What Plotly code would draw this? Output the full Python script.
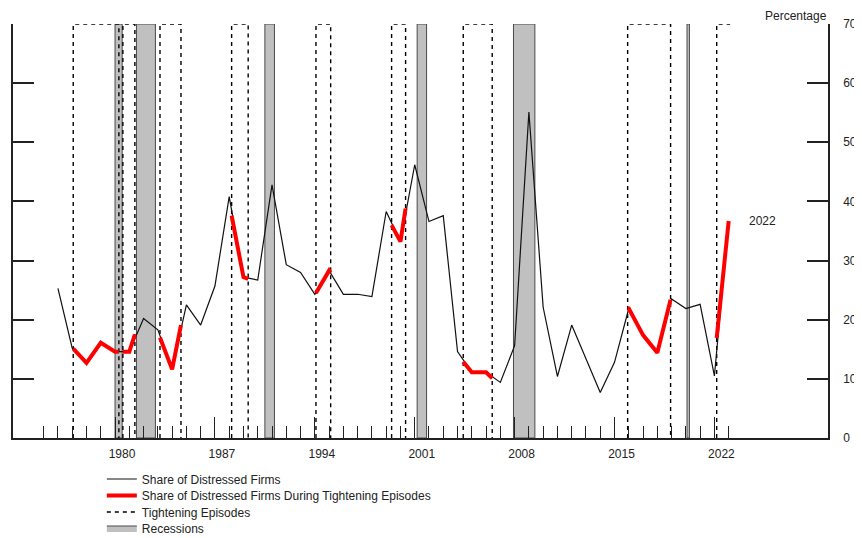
import plotly.graph_objects as go

# ---------------- data ----------------
years = list(range(1975, 2023))
share_distressed = [25.3, 15.2, 12.7, 16.1, 14.6, 14.6, 20.2, 18.3, 11.6, 22.5,
                    19.1, 25.7, 40.8, 27.2, 26.7, 42.8, 29.3, 28.0, 24.3, 28.3,
                    24.3, 24.3, 23.9, 38.3, 33.2, 46.2, 36.6, 37.6, 14.6, 11.1,
                    11.1, 9.4, 15.6, 55.1, 22.1, 10.4, 19.1, 13.4, 7.7, 12.8,
                    21.9, 17.4, 14.4, 23.5, 21.9, 22.6, 10.5, 36.7]

# tightening episodes (decimal years); last one still open
tight_start = [1977.07, 1980.55, 1983.15, 1988.17, 1994.08, 1999.38, 2004.40, 2015.92, 2022.16]
tight_end = [1980.27, 1981.39, 1984.62, 1989.33, 1995.11, 2000.36, 2006.43, 2018.93, 2023.10]
tight_open = [False, False, False, False, False, False, False, False, True]

# share of distressed firms during tightening episodes (x in decimal years, values read)
red_segments_x = [[1977.07, 1978, 1979, 1980, 1980.27],
                  [1980.55, 1981, 1981.39],
                  [1983.15, 1984, 1984.62],
                  [1988.17, 1989, 1989.33],
                  [1994.08, 1995, 1995.11],
                  [1999.38, 2000, 2000.36],
                  [2004.40, 2005, 2006, 2006.43],
                  [2015.92, 2016, 2017, 2018, 2018.93],
                  [2022.16, 2023]]
red_segments_y = [[15.1, 12.7, 16.1, 14.6, 14.6],
                  [14.6, 14.6, 17.5],
                  [17.0, 11.6, 19.1],
                  [37.6, 27.2, 26.9],
                  [24.5, 28.3, 27.9],
                  [36.0, 33.2, 38.8],
                  [12.9, 11.1, 11.1, 10.1],
                  [21.9, 21.9, 17.4, 14.4, 23.4],
                  [16.9, 36.7]]

# NBER recessions (decimal years)
rec_start = [1980.00, 1981.50, 1990.50, 2001.17, 2007.92, 2020.08]
rec_end = [1980.50, 1982.83, 1991.17, 2001.83, 2009.42, 2020.25]

label_years = [1980, 1987, 1994, 2001, 2008, 2015, 2022]
minor_years = list(range(1975, 2024))
y_ticks = [0, 10, 20, 30, 40, 50, 60, 70]

# observations are plotted at year end
x_pos = [y + 1 for y in years]

FONT = "Arial, Liberation Sans, sans-serif"
Y_MAX = 70
INK = "#222222"

fig = go.Figure()

# recessions
rx, ry = [], []
for s, e in zip(rec_start, rec_end):
    rx += [s, s, e, e, s, None]
    ry += [0, Y_MAX, Y_MAX, 0, 0, None]
fig.add_trace(go.Scatter(x=rx, y=ry, mode="lines", fill="toself",
                         fillcolor="#c0c0c0", line=dict(color="#4a4a4a", width=1),
                         name="Recessions", legend="legend4", hoverinfo="skip"))

# tightening episodes
tx, ty = [], []
for s, e, op in zip(tight_start, tight_end, tight_open):
    if op:
        tx += [s, s, e, None]
        ty += [0, Y_MAX, Y_MAX, None]
    else:
        tx += [s, s, e, e, None]
        ty += [0, Y_MAX, Y_MAX, 0, None]
fig.add_trace(go.Scatter(x=tx, y=ty, mode="lines",
                         line=dict(color="black", width=1.4, dash="4px,4px"),
                         name="Tightening Episodes", legend="legend3", hoverinfo="skip"))

# main series
fig.add_trace(go.Scatter(x=x_pos, y=share_distressed, mode="lines",
                         line=dict(color="#111111", width=1.2),
                         name="Share of Distressed Firms", legend="legend"))

# red segments
redx, redy = [], []
for sx, sy in zip(red_segments_x, red_segments_y):
    redx += sx + [None]
    redy += sy + [None]
fig.add_trace(go.Scatter(x=redx, y=redy, mode="lines",
                         line=dict(color="#ff0000", width=4),
                         name="Share of Distressed Firms During Tightening Episodes",
                         legend="legend2"))

# dummy trace carrying the long 70 tick axis
fig.add_trace(go.Scatter(x=[None], y=[None], yaxis="y2", showlegend=False,
                         hoverinfo="skip"))

fig.add_annotation(x=x_pos[-1], y=share_distressed[-1], text=str(years[-1]),
                   xanchor="left", yanchor="middle", xshift=18, showarrow=False,
                   font=dict(family=FONT, size=12, color=INK))
fig.add_annotation(xref="paper", yref="paper", x=1.0, y=1.0, text="Percentage",
                   xanchor="right", yanchor="top", yshift=16, showarrow=False,
                   borderpad=0, font=dict(family=FONT, size=12, color=INK))

# the page body adds an 8px offset; size the figure so the plot lands where it should
FIG_W, FIG_H = 850, 530
M_L, M_R, M_T, M_B = 5, 30, 16, 100
PLOT_H = FIG_H - M_T - M_B

# one legend per row so the rows can sit as close as in the original
row_px = [479, 495.5, 512, 528]      # screen rows of the original
axis_px = 438                        # screen row of the x axis
leg_common = dict(x=0.109, xanchor="left", yanchor="middle",
                  bgcolor="rgba(0,0,0,0)", borderwidth=0,
                  font=dict(family=FONT, size=12, color=INK))
legends = {}
for i, py in enumerate(row_px):
    key = "legend" if i == 0 else f"legend{i + 1}"
    legends[key] = dict(leg_common, y=(axis_px - py) / PLOT_H)

fig.update_layout(
    width=FIG_W, height=FIG_H,
    margin=dict(l=M_L, r=M_R, t=M_T, b=M_B, autoexpand=False),
    paper_bgcolor="white", plot_bgcolor="white",
    font=dict(family=FONT, size=12, color=INK),
    showlegend=True,
    **legends,
    xaxis=dict(range=[1972.85, 2029.96], showgrid=False, zeroline=False,
               showline=True, linecolor=INK, linewidth=1.5,
               tickmode="array", tickvals=label_years,
               ticktext=[str(v) for v in label_years],
               ticks="inside", ticklen=21, tickwidth=1.3, tickcolor=INK,
               ticklabelshift=7, ticklabelstandoff=4,
               minor=dict(tickmode="array", tickvals=minor_years, ticks="inside",
                          ticklen=12, tickwidth=1.3, tickcolor=INK)),
    yaxis=dict(range=[0, Y_MAX], side="right", showgrid=False, zeroline=False,
               showline=True, linecolor=INK, linewidth=1.5, mirror="ticks",
               tickmode="array", tickvals=y_ticks, ticks="inside", ticklen=21,
               tickwidth=1.5, tickcolor=INK, ticklabelstandoff=11),
    yaxis2=dict(range=[0, Y_MAX], overlaying="y", side="right", showgrid=False,
                zeroline=False, showline=True, linecolor=INK, linewidth=1.5,
                mirror="ticks", tickmode="array", tickvals=[Y_MAX], ticks="inside",
                ticklen=41, tickwidth=1.5, tickcolor=INK, showticklabels=False),
)

fig.write_html("out.html")
